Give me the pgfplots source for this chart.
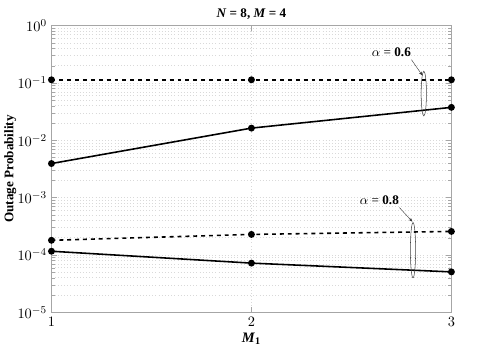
\documentclass[border=0pt]{standalone}
\usepackage{fontspec}
\setmainfont{Liberation Serif}
\usepackage{pgfplots}
\pgfplotsset{compat=1.18}
\usetikzlibrary{arrows.meta}

\begin{document}
\begin{tikzpicture}
\begin{axis}[
  scale only axis,
  width=304.5pt, height=218.25pt,
  xmin=1, xmax=3, ymin=1e-5, ymax=1,
  ymode=log,
  xtick={1,2,3},
  ytick={1e-5,1e-4,1e-3,1e-2,1e-1,1},
  axis line style={gray!70},
  tick style={gray!70},
  tick align=inside,
  grid=both,
  major grid style={gray!30, dotted},
  minor grid style={gray!30, dotted},
  tick label style={font=\fontsize{11}{12}\selectfont},
  xlabel={\textbf{\textit{M}}$_{\mathbf{1}}$},
  ylabel={\textbf{Outage Probability}},
  xlabel style={yshift=2pt, font=\fontsize{11}{12}\selectfont},
  ylabel style={yshift=-6pt, font=\fontsize{10}{12}\selectfont},
  title={\textbf{\textit{N} = 8, \textit{M} = 4}},
  title style={font=\fontsize{10}{12}\selectfont, yshift=-5pt},
]
% alpha = 0.6
\addplot[black, dashed, line width=1.2pt, mark=*, mark size=2pt, mark options={solid}] coordinates {(1,0.1135) (2,0.1135) (3,0.1135)};
\addplot[black, solid, line width=1.2pt, mark=*, mark size=2pt] coordinates {(1,0.00393) (2,0.0163) (3,0.0375)};
% alpha = 0.8
\addplot[black, dashed, line width=1.2pt, mark=*, mark size=2pt, mark options={solid}] coordinates {(1,1.80e-4) (2,2.28e-4) (3,2.57e-4)};
\addplot[black, solid, line width=1.2pt, mark=*, mark size=2pt] coordinates {(1,1.16e-4) (2,7.2e-5) (3,5.06e-5)};

\draw[gray!50!black, line width=0.4pt] (axis cs:2.862,0.0652) ellipse [x radius=2pt, y radius=17pt];
\draw[gray!50!black, line width=0.4pt] (axis cs:2.808,1.21e-4) ellipse [x radius=2pt, y radius=21pt];
\node[font=\fontsize{10}{12}\selectfont] at (axis cs:2.70,0.344) {$\alpha$ = \textbf{0.6}};
\node[font=\fontsize{10}{12}\selectfont] at (axis cs:2.64,9.1e-4) {$\alpha$ = \textbf{0.8}};
\draw[gray!40!black, line width=0.3pt, -{Stealth[length=3pt]}] (axis cs:2.80,0.255) -- (axis cs:2.855,0.135);
\draw[gray!40!black, line width=0.3pt, -{Stealth[length=3pt]}] (axis cs:2.74,6.7e-4) -- (axis cs:2.805,3.8e-4);
\end{axis}
\path (-33.75pt,-24pt) rectangle (324.75pt,237.75pt);
\end{tikzpicture}
\end{document}
